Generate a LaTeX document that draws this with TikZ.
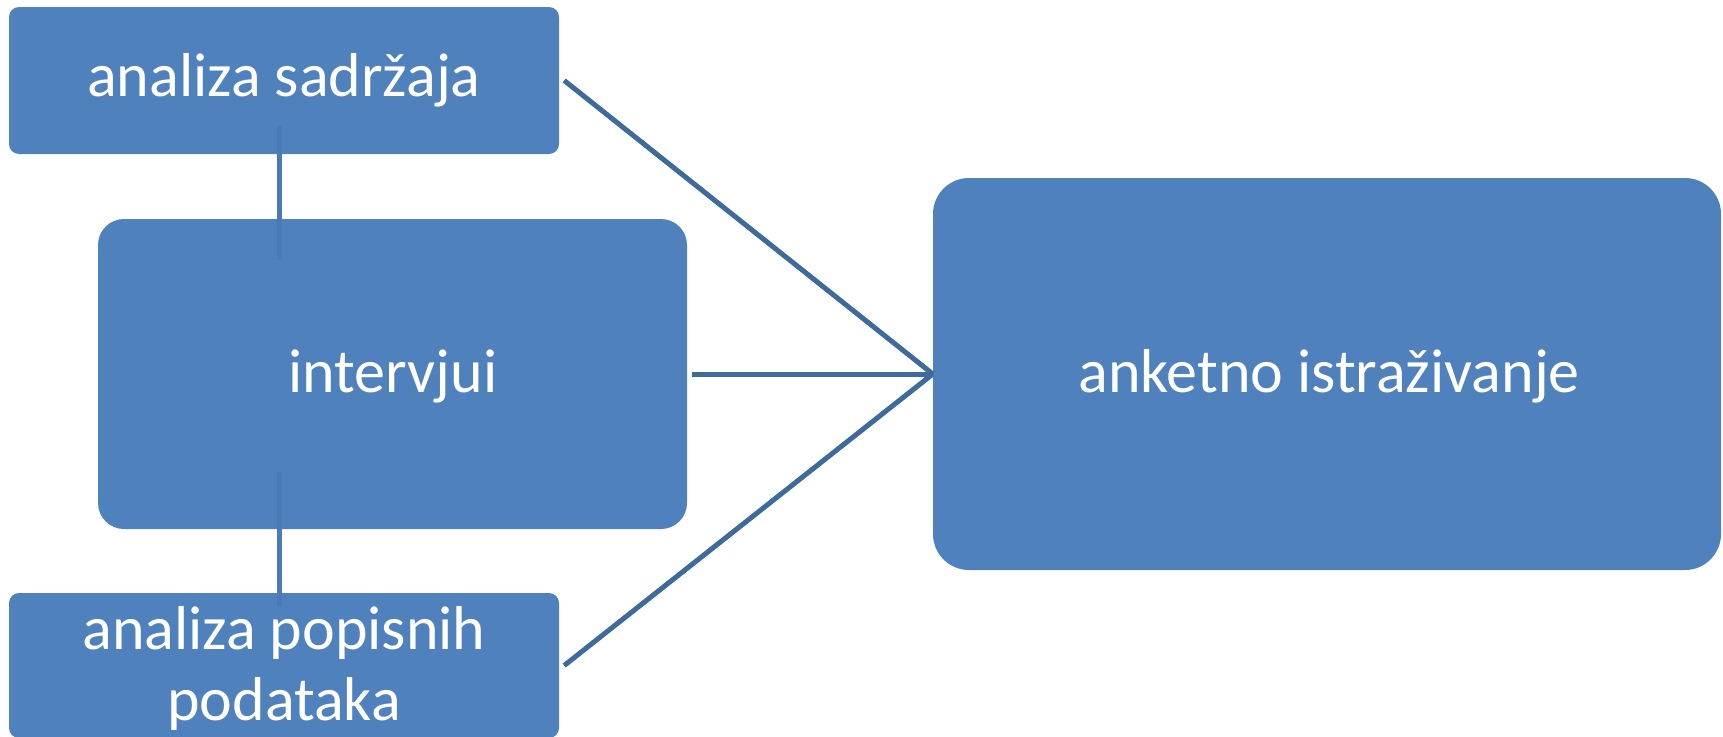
\documentclass[tikz,border=0pt]{standalone}
\usepackage{fontspec}
\setmainfont{Carlito}
\definecolor{boxblue}{HTML}{4F81BD}
\definecolor{linkblue}{HTML}{3F6A9C}
\definecolor{stemblue}{HTML}{4A7BB7}
\begin{document}
\begin{tikzpicture}[x=1pt,y=-1pt,
  box/.style={fill=boxblue, draw=none, rectangle, inner sep=0pt},
  lbl/.style={text=white, anchor=base, inner sep=0pt, font=\fontsize{62}{74}\selectfont},
  link/.style={draw=linkblue, line width=5pt},
  stem/.style={draw=stemblue, line width=5pt}]
\useasboundingbox (0,0) rectangle (1723,736);
\fill[white] (0,0) rectangle (1723,736);
% boxes
\node[box, rounded corners=10pt, minimum width=550pt, minimum height=147pt] (b1) at (284,80.5) {};
\node[box, rounded corners=26pt, minimum width=589pt, minimum height=310pt] (b2) at (392.5,374) {};
\node[box, rounded corners=10pt, minimum width=550pt, minimum height=145pt] (b3) at (284,665.5) {};
\node[box, rounded corners=36pt, minimum width=788pt, minimum height=392pt] (b4) at (1327,374) {};
% stems drawn over the boxes
\coordinate (s1a) at (279,125);
\coordinate (s1b) at (279,260);
\coordinate (s2a) at (279,472);
\coordinate (s2b) at (279,607);
\draw[stem] (s1a) -- (s1b);
\draw[stem] (s2a) -- (s2b);
% labels
\node[lbl] (t1) at (284,96) {analiza sadržaja};
\node[lbl] (t2) at (393,392) {intervjui};
\node[lbl] (t4) at (1329,392) {anketno istraživanje};
\node[lbl] (t3a) at (284,649) {analiza popisnih};
\node[lbl] (t3b) at (284,720) {podataka};
% connectors
\draw[link] ([xshift=5pt]b1.east) -- (b4.west);
\draw[link] ([xshift=5pt]b2.east) -- (b4.west);
\draw[link] ([xshift=5pt]b3.east) -- (b4.west);
\end{tikzpicture}
\end{document}
